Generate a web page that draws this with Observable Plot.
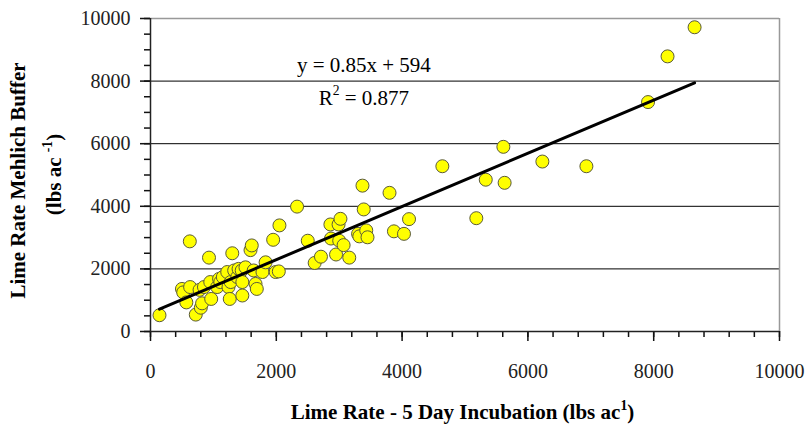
<!DOCTYPE html>
<html><head><meta charset="utf-8">
<script src="https://cdn.jsdelivr.net/npm/d3@7"></script>
<script src="https://cdn.jsdelivr.net/npm/@observablehq/plot@0.6"></script>
<style>body{margin:0;background:#fff} svg{display:block}</style>
</head><body><div id="chart"></div>
<script>
// Lime rate from 5-day incubation (x) vs Mehlich buffer lime rate (y), lbs/ac
const incubationX = [143, 500, 520, 570, 630, 625, 720, 780, 800, 820, 850, 930, 950, 965, 1060, 1090, 1110, 1150, 1220, 1240, 1260, 1275, 1300, 1330, 1380, 1400, 1450, 1460, 1460, 1510, 1590, 1610, 1640, 1670, 1690, 1780, 1830, 1950, 1990, 2040, 2050,
  2330, 2500, 2610, 2710, 2860, 2870, 2950, 2990, 3000, 3020, 3070, 3160, 3300, 3320, 3370, 3390, 3430, 3450, 3800, 3870, 4030, 4110,
  4640, 5180, 5330, 5610, 5630, 6230, 6930, 7910, 8220, 8650];
const mehlichY = [520, 1360, 1250, 930, 1420, 2880, 540, 1330, 760, 900, 1420, 2360, 1580, 1040, 1420, 1680, 1580, 1740, 1900, 1420, 1040, 1580, 2500, 1950, 1740, 2000, 1950, 1580, 1150, 2050, 2600, 2750, 1950, 1520, 1360, 1900, 2210, 2930, 1900, 1920, 3390,
  3990, 2900, 2190, 2390, 3420, 2970, 2460, 3420, 2900, 3600, 2760, 2360, 3120, 3040, 4660, 3900, 3230, 3010, 4430, 3200, 3120, 3590,
  5280, 3620, 4850, 5900, 4750, 5430, 5280, 7330, 8790, 9720];
const xTicks = [0, 2000, 4000, 6000, 8000, 10000];
const yTicks = [0, 2000, 4000, 6000, 8000, 10000];
const gridY = [2000, 4000, 6000, 8000];
const slope = 0.85, intercept = 594;
const eqText = ["y = 0.85x + 594", "R", "2", " = 0.877"];
const xTitle = ["Lime Rate - 5 Day Incubation (lbs ac", "1", ")"];
const yTitle1 = "Lime Rate Mehlich Buffer";
const yTitle2 = ["(lbs ac ", "-1", ")"];

const points = incubationX.map((x, i) => ({x, y: mehlichY[i]}));
const xExt = d3.extent(incubationX);
const fitLine = xExt.map(x => ({x, y: slope * x + intercept}));
const xMinor = d3.range(0, 10001, 400);
const yMinor = d3.range(0, 10001, 500);

const serif = "'Liberation Serif','Times New Roman',serif";
const W = 805, H = 425, mL = 150, mR = 26, mT = 18, mB = 94;

const chart = Plot.plot({
  width: W, height: H,
  marginLeft: mL, marginRight: mR, marginTop: mT, marginBottom: mB,
  x: {domain: [0, 10000]},
  y: {domain: [0, 10000]},
  style: {fontFamily: serif, fontSize: "20px", color: "#000", background: "#fff"},
  marks: [
    Plot.ruleY(gridY, {stroke: "#000", strokeWidth: 1}),
    Plot.ruleY([10000], {stroke: "#999", strokeWidth: 1.5}),
    Plot.ruleX([10000], {stroke: "#999", strokeWidth: 1.5}),
    // minor & major tick marks (outside the frame)
    Plot.ruleX(xMinor, {x: d => d, y1: 0, y2: 0, insetBottom: -6, stroke: "#111", strokeWidth: 1.5}),
    Plot.ruleX(xTicks, {x: d => d, y1: 0, y2: 0, insetBottom: -10, stroke: "#111", strokeWidth: 1.5}),
    Plot.ruleY(yMinor, {y: d => d, x1: 0, x2: 0, insetLeft: -6, stroke: "#111", strokeWidth: 1.5}),
    Plot.ruleY(yTicks, {y: d => d, x1: 0, x2: 0, insetLeft: -10, stroke: "#111", strokeWidth: 1.5}),
    Plot.axisX(xTicks, {tickSize: 0, tickPadding: 32, tickFormat: d => String(d), label: null, fontSize: 20, fill: "#222"}),
    Plot.axisY(yTicks, {tickSize: 0, tickPadding: 20, tickFormat: d => String(d), label: null, fontSize: 20, fill: "#222"}),
    Plot.ruleX([0], {stroke: "#222", strokeWidth: 1.5}),
    Plot.ruleY([0], {stroke: "#222", strokeWidth: 1.5}),
    Plot.dot(points, {x: "x", y: "y", r: 6.5, fill: "#ffff00", stroke: "#5a5a3a", strokeWidth: 1}),
    Plot.line(fitLine, {x: "x", y: "y", stroke: "#000", strokeWidth: 3})
  ]
});
document.getElementById("chart").appendChild(chart);

const svg = d3.select(chart);
const xs = chart.scale("x"), ys = chart.scale("y");

function supText(parent, parts, supIdx, size) {
  parts.forEach((p, i) => {
    const t = parent.append("tspan").text(p);
    if (supIdx.includes(i)) t.attr("font-size", size * 0.65).attr("dy", -size * 0.45);
    else if (i > 0 && supIdx.includes(i - 1)) t.attr("dy", size * 0.45);
  });
}
// regression equation
const eqX = xs.apply(3400);
svg.append("text").attr("x", eqX).attr("y", ys.apply(8500) + 7)
  .attr("text-anchor", "middle").attr("font-family", serif).attr("font-size", 21).text(eqText[0]);
supText(svg.append("text").attr("x", eqX).attr("y", ys.apply(7450) + 7)
  .attr("text-anchor", "middle").attr("font-family", serif).attr("font-size", 21), eqText.slice(1), [1], 21);
// x title
supText(svg.append("text").attr("x", (mL + W - mR) / 2 - 2).attr("y", H - 6)
  .attr("text-anchor", "middle").attr("font-family", serif).attr("font-weight", "bold").attr("font-size", 21), xTitle, [1], 21);
// y title
const cy = (mT + H - mB) / 2;
svg.append("text").attr("transform", `translate(25,${cy + 6}) rotate(-90)`)
  .attr("text-anchor", "middle").attr("font-family", serif).attr("font-weight", "bold").attr("font-size", 21).text(yTitle1);
supText(svg.append("text").attr("transform", `translate(61,${cy}) rotate(-90)`)
  .attr("text-anchor", "middle").attr("font-family", serif).attr("font-weight", "bold").attr("font-size", 21), yTitle2, [1], 21);
</script>
</body></html>
